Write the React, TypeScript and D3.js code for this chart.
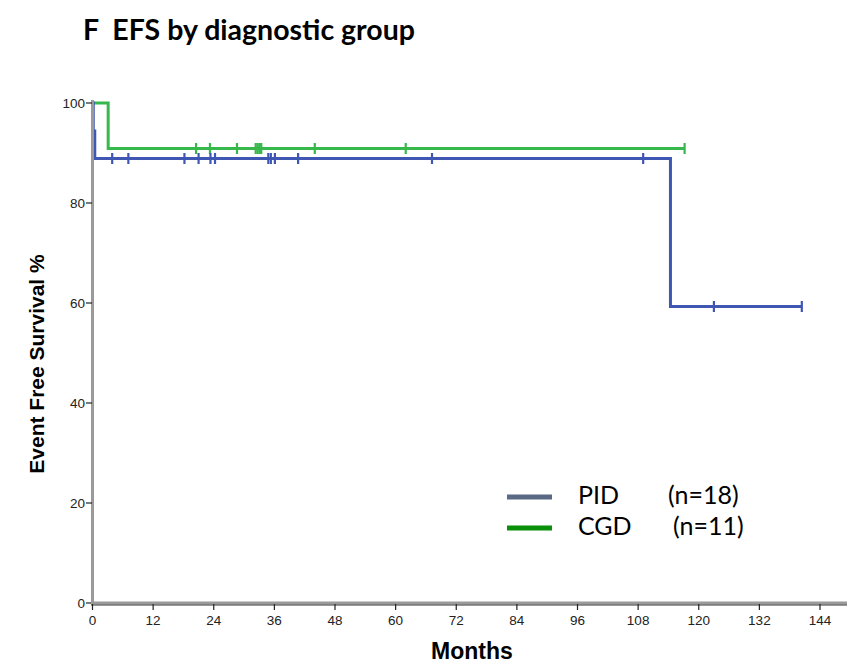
import React from "react";
import * as d3 from "d3";

const xTicks = [0, 12, 24, 36, 48, 60, 72, 84, 96, 108, 120, 132, 144];
const yTicks = [0, 20, 40, 60, 80, 100];

// PID steps: [time, survival %]
const pidSteps: [number, number][] = [
  [0, 100],
  [0.15, 94.4],
  [0.45, 88.9],
  [114.4, 59.3],
];
const pidEnd = 140.4;
const pidCensors: [number, number][] = [
  [3.9, 88.9], [7.1, 88.9], [18.2, 88.9], [21.0, 88.9], [23.35, 88.9], [24.25, 88.9],
  [34.8, 88.9], [35.3, 88.9], [36.1, 88.9], [40.7, 88.9], [67.2, 88.9], [109.0, 88.9],
  [123.0, 59.3], [140.4, 59.3],
];

const cgdSteps: [number, number][] = [
  [0, 100],
  [3.1, 90.9],
];
const cgdEnd = 117.2;
const cgdCensors: [number, number][] = [
  [20.5, 90.9], [23.25, 90.9], [28.6, 90.9], [32.3, 90.9], [32.7, 90.9], [33.1, 90.9],
  [33.4, 90.9], [44.0, 90.9], [62.0, 90.9], [117.2, 90.9],
];

const legendItems = [
  { label: "PID", n: "(n=18)", color: "#5b6a84" },
  { label: "CGD", n: "(n=11)", color: "#0a8f0a" },
];

const W = 847;
const H = 668;
const sans = "Arial, 'Liberation Sans', Helvetica, sans-serif";
const cal = "Lato, 'Open Sans', sans-serif";

export default function App() {
  const x = d3.scaleLinear().domain([0, 144]).range([92.5, 820]);
  const y = d3.scaleLinear().domain([0, 100]).range([603, 103]);

  const stepPath = (steps: [number, number][], end: number) => {
    const pts: [number, number][] = [...steps, [end, steps[steps.length - 1][1]]];
    const line = d3
      .line<[number, number]>()
      .x((d) => x(d[0]))
      .y((d) => y(d[1]))
      .curve(d3.curveStepAfter);
    return line(pts) || "";
  };

  const blue = "#3f56b2";
  const green = "#37b84b";

  return (
    <svg width={W} height={H} style={{ display: "block", position: "absolute", left: 0, top: 0 }}>
      <rect width={W} height={H} fill="#fff" />
      <text x={83} y={40} fontFamily={cal} fontWeight="bold" fontSize={28.5} fill="#000">
        F{"\u00a0\u00a0"}EFS by diagnostic group
      </text>

      {/* curves */}
      <path d={stepPath(cgdSteps, cgdEnd)} fill="none" stroke={green} strokeWidth={3} />
      <path d={stepPath(pidSteps, pidEnd)} fill="none" stroke={blue} strokeWidth={3} />
      {cgdCensors.map((c, i) => (
        <line key={"g" + i} x1={x(c[0])} x2={x(c[0])} y1={y(c[1]) - 5.5} y2={y(c[1]) + 5.5} stroke={green} strokeWidth={2.2} />
      ))}
      {pidCensors.map((c, i) => (
        <line key={"b" + i} x1={x(c[0])} x2={x(c[0])} y1={y(c[1]) - 5.5} y2={y(c[1]) + 5.5} stroke={blue} strokeWidth={2.2} />
      ))}

      {/* y axis */}
      <line x1={92.5} x2={92.5} y1={100} y2={604} stroke="#9a9a9a" strokeWidth={3} />
      {yTicks.map((t) => (
        <g key={"y" + t}>
          <line x1={86} x2={92} y1={y(t)} y2={y(t)} stroke="#222" strokeWidth={1.2} />
          <text x={85} y={y(t) + 5} textAnchor="end" fontFamily={sans} fontSize={13.5} fill="#222">
            {t}
          </text>
        </g>
      ))}
      {/* x axis */}
      <line x1={91} x2={W} y1={603} y2={603} stroke="#9a9a9a" strokeWidth={3} />
      <line x1={91} x2={W} y1={605} y2={605} stroke="#333" strokeWidth={1} />
      {xTicks.map((t) => (
        <g key={"x" + t}>
          <line x1={x(t)} x2={x(t)} y1={604} y2={610} stroke="#222" strokeWidth={1.2} />
          <text x={x(t)} y={625} textAnchor="middle" fontFamily={sans} fontSize={13.5} fill="#222">
            {t}
          </text>
        </g>
      ))}

      <text x={472} y={659} textAnchor="middle" fontFamily={sans} fontWeight="bold" fontSize={23} fill="#000">
        Months
      </text>
      <text
        transform={`translate(44, 364) rotate(-90)`}
        textAnchor="middle"
        fontFamily={sans}
        fontWeight="bold"
        fontSize={21}
        fill="#000"
      >
        Event Free Survival %
      </text>

      {/* legend */}
      {legendItems.map((it, i) => (
        <g key={it.label} transform={`translate(0, ${497 + i * 31})`}>
          <line x1={507} x2={552} y1={0} y2={0} stroke={it.color} strokeWidth={5} />
          <text x={578} y={7} fontFamily={cal} fontSize={25} fill="#000">
            {it.label}
          </text>
          <text x={i === 0 ? 668 : 673} y={7} fontFamily={cal} fontSize={25} fill="#000">
            {it.n}
          </text>
        </g>
      ))}
    </svg>
  );
}
